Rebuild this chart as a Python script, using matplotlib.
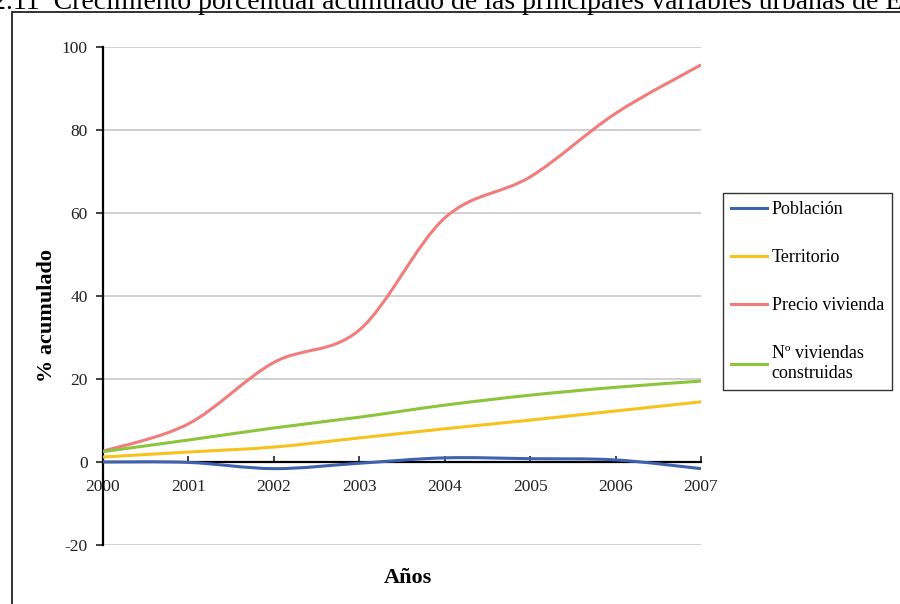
import numpy as np
import matplotlib
matplotlib.use("Agg")
import matplotlib.pyplot as plt
from matplotlib.path import Path
from matplotlib.patches import PathPatch, Rectangle
from matplotlib.lines import Line2D

plt.rcParams['font.family'] = ['Liberation Serif', 'DejaVu Serif']
plt.rcParams['axes.unicode_minus'] = False

years = [2000, 2001, 2002, 2003, 2004, 2005, 2006, 2007]
poblacion = [0.0, -0.1, -1.6, -0.3, 1.0, 0.8, 0.5, -1.6]
territorio = [1.2, 2.4, 3.6, 5.8, 8.0, 10.1, 12.3, 14.5]
precio_vivienda = [2.6, 9.2, 24.0, 31.8, 58.8, 68.7, 84.0, 95.7]
viviendas = [2.5, 5.3, 8.2, 10.8, 13.7, 16.1, 18.0, 19.5]

labels = ["Población", "Territorio", "Precio vivienda", "Nº viviendas\nconstruidas"]
colors = ["#3F62AE", "#F7C21E", "#F07C7C", "#8CC43C"]


def smooth_path(x, y, k=1/6):
    # bezier segments through the points, like a "smoothed line" chart
    x = np.asarray(x, float)
    y = np.asarray(y, float)
    n = len(x)
    verts = [(x[0], y[0])]
    codes = [Path.MOVETO]
    for i in range(n - 1):
        i0 = max(i - 1, 0)
        i3 = min(i + 2, n - 1)
        c1 = (x[i] + (x[i + 1] - x[i0]) * k, y[i] + (y[i + 1] - y[i0]) * k)
        c2 = (x[i + 1] - (x[i3] - x[i]) * k, y[i + 1] - (y[i3] - y[i]) * k)
        verts += [c1, c2, (x[i + 1], y[i + 1])]
        codes += [Path.CURVE4] * 3
    return Path(verts, codes)


fig = plt.figure(figsize=(9, 6.04), dpi=100)
ax = fig.add_axes([103/900, 1 - 545/604, (701 - 103)/900, (545 - 47)/604])

ax.set_xlim(2000, 2007)
ax.set_ylim(-20, 100)
ax.set_yticks(range(-20, 101, 20))
ax.set_xticks(years)
ax.yaxis.grid(True, color="#C8C8C8", lw=1.2)
ax.set_axisbelow(True)

for s in ["top", "right"]:
    ax.spines[s].set_visible(False)
ax.spines["left"].set_linewidth(1.6)
ax.spines["bottom"].set_position(("data", 0))
ax.spines["bottom"].set_linewidth(1.6)
ax.spines["bottom"].set_zorder(1)

ax.tick_params(axis="y", direction="out", length=5, width=1.2, labelsize=12.5, pad=6, colors="#222222")
ax.tick_params(axis="x", direction="in", length=4, width=1.2, labelsize=12.5, pad=12, colors="#222222")

series = [poblacion, territorio, precio_vivienda, viviendas]
for vals, c in zip(series, colors):
    ax.add_patch(PathPatch(smooth_path(years, vals), facecolor="none", edgecolor=c,
                           lw=2.2, zorder=3, capstyle="butt"))

handles = [Line2D([], [], color=c, lw=2.2) for c in colors]
leg = ax.legend(handles, labels, loc="upper left", bbox_to_anchor=(723/900, 1 - 193/604),
                bbox_transform=fig.transFigure, fontsize=13, frameon=True, fancybox=False,
                edgecolor="black", handlelength=2.0, handletextpad=0.25, labelspacing=1.72,
                borderpad=0.45, borderaxespad=0)
leg.get_frame().set_linewidth(1.0)

fig.text(47/900, 1 - 315/604, "% acumulado", rotation=90, ha="center", va="center",
         fontsize=16, fontweight="bold")
fig.text(408/900, 1 - 578/604, "Años", ha="center", va="center", fontsize=16, fontweight="bold")

fig.text(-0.009, 1 - 9/604, "2.11  Crecimiento porcentual acumulado de las principales variables urbanas de España",
         ha="left", va="baseline", fontsize=20)

fig.patches.append(Rectangle((12/900, -0.05), 1.0, 1 - 12/604 + 0.05, transform=fig.transFigure,
                             facecolor="none", edgecolor="#222222", lw=1.3))

fig.savefig("out.png", dpi=100)
